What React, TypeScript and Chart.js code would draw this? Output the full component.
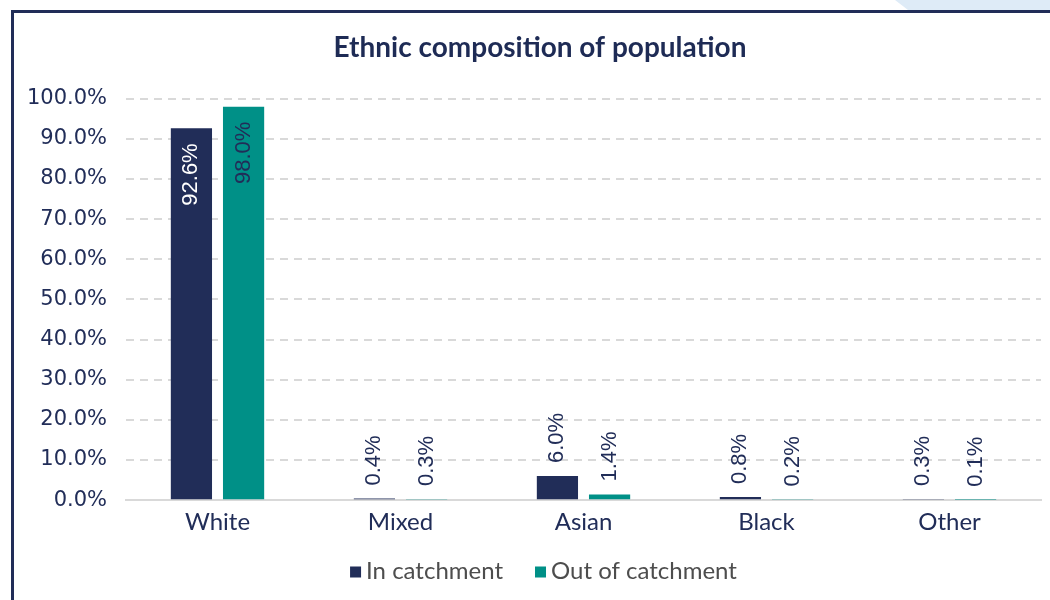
import React, { useEffect, useRef } from "react";
import { Chart, registerables } from "chart.js";

Chart.register(...registerables);

const categories = ["White", "Mixed", "Asian", "Black", "Other"];
const inCatchment = [92.6, 0.4, 6.0, 0.8, 0.3];
const outCatchment = [98.0, 0.3, 1.4, 0.2, 0.1];
const seriesNames = ["In catchment", "Out of catchment"];
const yTicks = [0, 10, 20, 30, 40, 50, 60, 70, 80, 90, 100];

const NAVY = "#212d58";
const TEAL = "#009087";

const labelPlugin = {
  id: "barLabels",
  afterDatasetsDraw(chart: any) {
    const ctx = chart.ctx;
    ctx.save();
    ctx.font = "22px 'Liberation Sans', Arial, sans-serif";
    ctx.textBaseline = "middle";
    chart.data.datasets.forEach((ds: any, di: number) => {
      const meta = chart.getDatasetMeta(di);
      meta.data.forEach((bar: any, i: number) => {
        const v = ds.data[i];
        const txt = v.toFixed(1) + "%";
        const h = bar.base - bar.y;
        ctx.save();
        ctx.translate(bar.x, bar.y);
        ctx.rotate(-Math.PI / 2);
        if (h > 90) {
          ctx.textAlign = "right";
          ctx.fillStyle = di === 0 ? "#ffffff" : NAVY;
          ctx.fillText(txt, -15, 0);
        } else {
          ctx.textAlign = "left";
          ctx.fillStyle = NAVY;
          ctx.fillText(txt, 13, 0);
        }
        ctx.restore();
      });
    });
    ctx.restore();
  },
};

const legendPlugin = {
  id: "customLegend",
  afterDraw(chart: any) {
    const ctx = chart.ctx;
    const centerX = 529.5;
    const centerY = 558;
    const box = 11;
    const gapBoxText = 5;
    const gapItems = 32;
    ctx.save();
    ctx.font = "24px Lato, sans-serif";
    ctx.textBaseline = "middle";
    ctx.textAlign = "left";
    const items = chart.data.datasets.map((ds: any) => ({
      text: ds.label,
      color: ds.backgroundColor,
      w: ctx.measureText(ds.label).width,
    }));
    const total =
      items.reduce((s: number, it: any) => s + box + gapBoxText + it.w, 0) + gapItems * (items.length - 1);
    let x = centerX - total / 2;
    items.forEach((it: any) => {
      ctx.fillStyle = it.color;
      ctx.fillRect(x, centerY - box / 2 + 1, box, box);
      x += box + gapBoxText;
      ctx.fillStyle = "#4d4d4d";
      ctx.fillText(it.text, x, centerY);
      x += it.w + gapItems;
    });
    ctx.restore();
  },
};

export default function App() {
  const ref = useRef<HTMLCanvasElement | null>(null);
  useEffect(() => {
    if (!ref.current) return;
    const chart = new Chart(ref.current, {
      type: "bar",
      data: {
        labels: categories,
        datasets: [
          { label: seriesNames[0], data: inCatchment, backgroundColor: NAVY, barPercentage: 0.79, categoryPercentage: 0.57 },
          { label: seriesNames[1], data: outCatchment, backgroundColor: TEAL, barPercentage: 0.79, categoryPercentage: 0.57 },
        ],
      },
      options: {
        responsive: false,
        animation: false,
        layout: { padding: { left: 0, right: 0, top: 0, bottom: 68 } },
        plugins: {
          title: {
            display: true,
            text: "Ethnic composition of population",
            color: "#1e2b55",
            font: { family: "Lato", size: 28, weight: "bold" },
            padding: { top: 18, bottom: 34 },
          },
          legend: { display: false },
          tooltip: { enabled: false },
        },
        scales: {
          x: {
            grid: { display: false, drawTicks: false },
            border: { display: true, color: "#d9d9d9", width: 2 },
            ticks: { color: NAVY, padding: 8, font: { family: "Lato", size: 24 } },
          },
          y: {
            min: 0,
            max: 100,
            afterBuildTicks: (s: any) => {
              s.ticks = yTicks.map((v) => ({ value: v }));
            },
            afterFit: (s: any) => {
              s.width = 112;
            },
            border: { display: false, dash: [8, 6] },
            grid: {
              color: (c: any) => (c.tick && c.tick.value === 0 ? "rgba(0,0,0,0)" : "#d9d9d9"),
              lineWidth: 2,
              drawTicks: false,
            },
            ticks: {
              color: NAVY,
              padding: 19,
              font: { family: "'DejaVu Sans'", size: 21 },
              callback: (v: any) => Number(v).toFixed(1) + "%",
            },
          },
          yR: {
            position: "right",
            display: true,
            afterFit: (s: any) => {
              s.width = 25;
            },
            grid: { display: false },
            border: { display: false },
            ticks: { display: false },
          },
        },
      } as any,
      plugins: [labelPlugin, legendPlugin],
    });
    return () => chart.destroy();
  }, []);

  return (
    <div style={{ position: "absolute", left: 0, top: 0, width: 1050, height: 600, overflow: "hidden", background: "#fff" }}>
      <div
        style={{
          position: "absolute",
          left: 895,
          top: 0,
          width: 155,
          height: 10,
          background: "#deebf7",
          clipPath: "polygon(0 0, 100% 0, 100% 100%, 13px 100%)",
        }}
      />
      <div style={{ position: "absolute", left: 11, top: 10, width: 1039, height: 3, background: NAVY }} />
      <div style={{ position: "absolute", left: 11, top: 10, width: 3, height: 590, background: NAVY }} />
      <canvas
        ref={ref}
        width={1052}
        height={600}
        style={{ position: "absolute", left: 14, top: 13, width: 1052, height: 600 }}
      />
    </div>
  );
}
